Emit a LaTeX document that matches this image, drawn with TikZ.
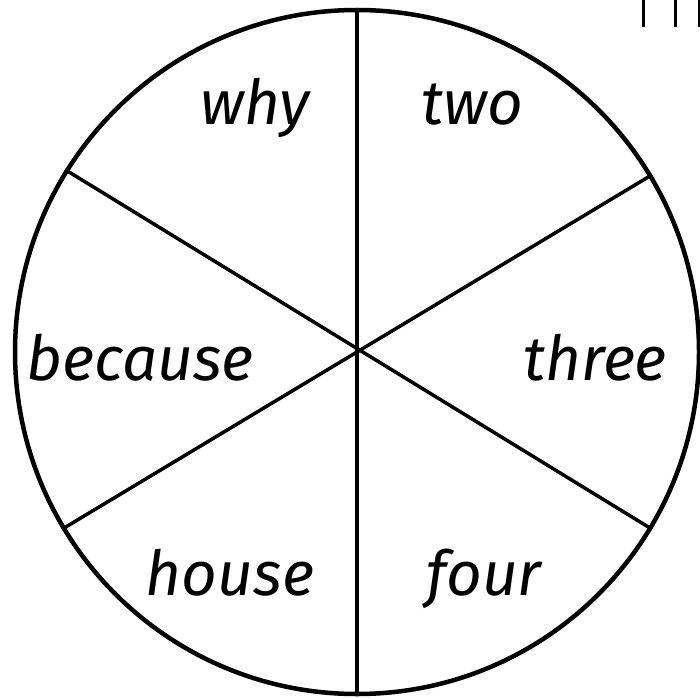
\documentclass[tikz,border=0pt]{standalone}
\usepackage{fontspec}
\setmainfont{Fira Sans}
\usetikzlibrary{positioning}
\tikzset{
  rimline/.style  = {circle, draw=black, line width=4.5pt, minimum size=684pt, inner sep=0pt},
  spoke/.style    = {draw=black, line width=3.5pt},
  word/.style     = {font=\fontsize{62}{70}\selectfont\itshape, inner sep=0pt, anchor=base},
  tick/.style     = {draw=black, line width=3pt},
}
\begin{document}
\begin{tikzpicture}[x=1pt,y=-1pt]
  \useasboundingbox (0,0) rectangle (700,698);
  % --- wheel
  \coordinate (hub) at (357,352);
  \node[rimline] (rim) at (hub) {};
  \draw[spoke] (rim.90) -- (rim.270);
  \draw[spoke] (rim.148.5) -- (rim.-31.5);
  \draw[spoke] (rim.31.5) -- (rim.211.5);

  % --- words
  \node[word] (why)     at (255,124) {why};
  \node[word] (two)     at (472,124) {two};
  \node[word] (because) at (140,380) {because};
  \node[word] (three)   at (595,380) {three};
  \node[word] (house)   at (230,595) {house};
  \node[word] (four)    at (484,595) {four};

  % --- cut-off marks, top right
  \foreach \x in {643,675,699}{
    \draw[tick] (\x,0) -- (\x,27);
  }
\end{tikzpicture}
\end{document}
